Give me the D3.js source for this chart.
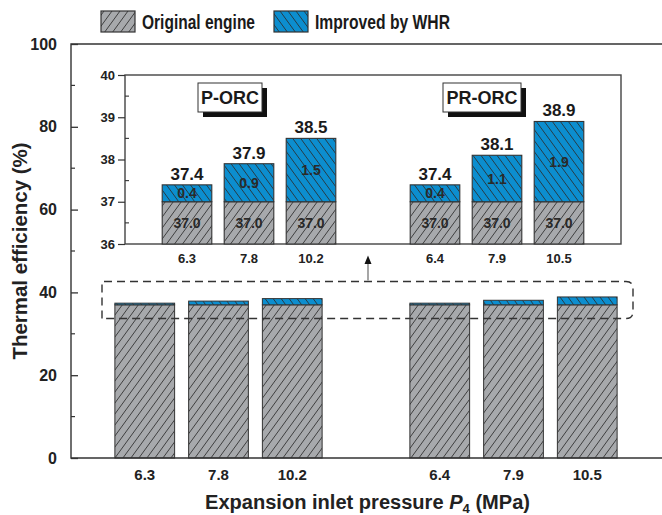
<!DOCTYPE html>
<html>
<head>
<meta charset="utf-8">
<script src="https://cdn.jsdelivr.net/npm/d3@7"></script>
<style>
  html, body { margin: 0; padding: 0; background: #fff; }
  svg { display: block; font-family: "Liberation Sans", Arial, sans-serif; }
</style>
</head>
<body>
<svg id="chart" width="662" height="515"></svg>
<script>
// Thermal efficiency of the original engine and the gain from waste heat recovery
const cycles = ["P-ORC", "PR-ORC"];
const cycleOf = ["P-ORC", "P-ORC", "P-ORC", "PR-ORC", "PR-ORC", "PR-ORC"];
const pressures = ["6.3", "7.8", "10.2", "6.4", "7.9", "10.5"];
const originalEff = [37.0, 37.0, 37.0, 37.0, 37.0, 37.0];
const improvedBy = [0.4, 0.9, 1.5, 0.4, 1.1, 1.9];
const mainTicks = [0, 20, 40, 60, 80, 100];
const insetTicks = [36, 37, 38, 39, 40];
const seriesNames = ["Original engine", "Improved by WHR"];

const GRAY = "#a7a9ac";
const BLUE = "#0c8ecf";
const INK = "#2a2a2a";

const rows = pressures.map((p, i) => ({
  p, cycle: cycleOf[i], base: originalEff[i], gain: improvedBy[i],
  total: originalEff[i] + improvedBy[i],
  slot: cycles.indexOf(cycleOf[i]) * 4 + (i % 3) + 1
}));

const svg = d3.select("#chart");
const defs = svg.append("defs");

// diagonal hatch fills
function hatch(id, fill, forward) {
  const w = 8, h = 11;
  const p = defs.append("pattern").attr("id", id)
    .attr("patternUnits", "userSpaceOnUse").attr("width", w).attr("height", h);
  p.append("rect").attr("width", w).attr("height", h).attr("fill", fill);
  const d = forward
    ? `M0,${h} L${w},0 M-${w},${h} L0,0 M${w},${h} L${2*w},0`
    : `M0,0 L${w},${h} M-${w},0 L0,${h} M${w},0 L${2*w},${h}`;
  p.append("path").attr("d", d).attr("stroke", INK).attr("stroke-width", 0.85).attr("fill", "none");
}
hatch("hGray", GRAY, true);
hatch("hBlue", BLUE, false);

// ---------- main panel ----------
const M = { left: 71, right: 661, top: 44, bottom: 458 };
const x = d3.scaleLinear().domain([0, 8]).range([M.left, M.right]);
const y = d3.scaleLinear().domain([0, 100]).range([M.bottom, M.top]);
const barW = (x(1) - x(0)) * 0.81;

const main = svg.append("g");

main.selectAll(".base").data(rows).join("rect")
  .attr("x", d => x(d.slot) - barW / 2).attr("width", barW)
  .attr("y", d => y(d.base)).attr("height", d => y(0) - y(d.base))
  .attr("fill", "url(#hGray)").attr("stroke", "#333").attr("stroke-width", 1);
main.selectAll(".gain").data(rows).join("rect")
  .attr("x", d => x(d.slot) - barW / 2).attr("width", barW)
  .attr("y", d => y(d.total)).attr("height", d => y(d.base) - y(d.total))
  .attr("fill", "url(#hBlue)").attr("stroke", "#333").attr("stroke-width", 1);

// frame
main.append("path")
  .attr("d", `M${M.right + 10},${M.top} H${M.left} V${M.bottom} H${M.right + 10}`)
  .attr("fill", "none").attr("stroke", "#333").attr("stroke-width", 1.4);

// y axis (ticks inward)
const yAxis = d3.axisLeft(y).tickValues(mainTicks).tickSize(-7).tickPadding(14).tickFormat(d3.format("d"));
const gy = main.append("g").attr("transform", `translate(${M.left},0)`).call(yAxis);
gy.select(".domain").remove();
gy.selectAll(".tick line").attr("stroke", "#333").attr("stroke-width", 1.3);
gy.selectAll(".tick text").attr("font-size", 16).attr("font-weight", "bold").attr("fill", "#222");
gy.selectAll(".minor").data(d3.range(10, 100, 20)).join("line")
  .attr("x1", 0).attr("x2", 4).attr("y1", d => y(d)).attr("y2", d => y(d))
  .attr("stroke", "#333").attr("stroke-width", 1.2);

// x tick labels
main.selectAll(".xl").data(rows).join("text")
  .attr("x", d => x(d.slot)).attr("y", 480)
  .attr("text-anchor", "middle").attr("font-size", 15).attr("font-weight", "bold").attr("fill", "#222")
  .text(d => d.p);

// axis titles
svg.append("text")
  .attr("transform", `translate(27,${(M.top + M.bottom) / 2}) rotate(-90)`)
  .attr("text-anchor", "middle").attr("font-size", 20).attr("font-weight", "bold").attr("fill", "#222")
  .attr("textLength", 217).attr("lengthAdjust", "spacingAndGlyphs")
  .text("Thermal efficiency (%)");
const xt = svg.append("text").attr("x", 205).attr("y", 509)
  .attr("font-size", 20).attr("font-weight", "bold").attr("fill", "#222")
  .attr("textLength", 325).attr("lengthAdjust", "spacingAndGlyphs");
xt.append("tspan").text("Expansion inlet pressure ");
xt.append("tspan").attr("font-style", "italic").text("P");
xt.append("tspan").attr("font-size", 13).attr("dy", 4).text("4");
xt.append("tspan").attr("dy", -4).text(" (MPa)");

// dashed zoom marker
const zr = { l: 102, r: 633, t: 281.5, b: 318.5, rad: 7 };
main.append("path")
  .attr("d", `M${zr.l},${zr.b} V${zr.t} H${zr.r - zr.rad} Q${zr.r},${zr.t} ${zr.r},${zr.t + zr.rad} V${zr.b - zr.rad} Q${zr.r},${zr.b} ${zr.r - zr.rad},${zr.b} H${zr.l}`)
  .attr("fill", "none").attr("stroke", "#333").attr("stroke-width", 1.4).attr("stroke-dasharray", "8,5");

// arrow up to inset
main.append("line").attr("x1", 368).attr("x2", 368).attr("y1", zr.t - 1).attr("y2", 262)
  .attr("stroke", "#777").attr("stroke-width", 1.3);
main.append("path").attr("d", "M368,255.5 L364.5,264 L371.5,264 Z").attr("fill", "#111");

// ---------- inset ----------
const I = { left: 125, right: 621, top: 75, bottom: 244 };
const xi = d3.scaleLinear().domain([0, 8]).range([I.left, I.right]);
const yi = d3.scaleLinear().domain([36, 40]).range([I.bottom, I.top]);
const barWi = (xi(1) - xi(0)) * 0.8;
const inset = svg.append("g");

inset.append("rect").attr("x", I.left).attr("y", I.top)
  .attr("width", I.right - I.left).attr("height", I.bottom - I.top)
  .attr("fill", "#fff").attr("stroke", "#444").attr("stroke-width", 1.4);

inset.selectAll(".ib").data(rows).join("rect")
  .attr("x", d => xi(d.slot) - barWi / 2).attr("width", barWi)
  .attr("y", d => yi(d.base)).attr("height", d => yi(36) - yi(d.base))
  .attr("fill", "url(#hGray)").attr("stroke", "#333").attr("stroke-width", 1.1);
inset.selectAll(".ig").data(rows).join("rect")
  .attr("x", d => xi(d.slot) - barWi / 2).attr("width", barWi)
  .attr("y", d => yi(d.total)).attr("height", d => yi(d.base) - yi(d.total))
  .attr("fill", "url(#hBlue)").attr("stroke", "#333").attr("stroke-width", 1.1);

// value labels
const f1 = d3.format(".1f");
inset.selectAll(".tl").data(rows).join("text")
  .attr("x", d => xi(d.slot)).attr("y", d => yi(d.total) - 5)
  .attr("text-anchor", "middle").attr("font-size", 17).attr("font-weight", "bold").attr("fill", "#1a1a1a")
  .text(d => f1(d.total));
inset.selectAll(".gl").data(rows).join("text")
  .attr("x", d => xi(d.slot)).attr("y", d => (yi(d.total) + yi(d.base)) / 2 + 5)
  .attr("text-anchor", "middle").attr("font-size", 14).attr("font-weight", "bold").attr("fill", "#2a2a2a")
  .text(d => f1(d.gain));
inset.selectAll(".bl").data(rows).join("text")
  .attr("x", d => xi(d.slot)).attr("y", d => (yi(36) + yi(d.base)) / 2 + 5)
  .attr("text-anchor", "middle").attr("font-size", 14).attr("font-weight", "bold").attr("fill", "#2a2a2a")
  .text(d => f1(d.base));

// inset y axis (major outward, minor inward)
const yAxisI = d3.axisLeft(yi).tickValues(insetTicks).tickSize(7).tickPadding(3).tickFormat(d3.format("d"));
const gyi = inset.append("g").attr("transform", `translate(${I.left},0)`).call(yAxisI);
gyi.select(".domain").remove();
gyi.selectAll(".tick line").attr("stroke", "#333").attr("stroke-width", 1.2);
gyi.selectAll(".tick text").attr("font-size", 13).attr("font-weight", "bold").attr("fill", "#222");
gyi.selectAll(".minor").data([36.5, 37.5, 38.5, 39.5]).join("line")
  .attr("x1", 0).attr("x2", 4).attr("y1", d => yi(d)).attr("y2", d => yi(d))
  .attr("stroke", "#333").attr("stroke-width", 1.1);

inset.selectAll(".ixl").data(rows).join("text")
  .attr("x", d => xi(d.slot)).attr("y", 263)
  .attr("text-anchor", "middle").attr("font-size", 13).attr("font-weight", "bold").attr("fill", "#222")
  .text(d => d.p);

// cycle name boxes with drop shadow
const boxes = [{ name: cycles[0], cx: 230, w: 64 }, { name: cycles[1], cx: 482, w: 78 }];
boxes.forEach(b => {
  const bx = b.cx - b.w / 2, by = 83, bh = 29;
  inset.append("rect").attr("x", bx + 5).attr("y", by + 5).attr("width", b.w).attr("height", bh).attr("fill", "#111");
  inset.append("rect").attr("x", bx).attr("y", by).attr("width", b.w).attr("height", bh)
    .attr("fill", "#fff").attr("stroke", "#333").attr("stroke-width", 1);
  inset.append("text").attr("x", b.cx).attr("y", by + 21)
    .attr("text-anchor", "middle").attr("font-size", 18).attr("font-weight", "bold").attr("fill", "#1a1a1a")
    .text(b.name);
});

// ---------- legend ----------
const legend = svg.append("g");
const legItems = [{ x: 101, fill: "url(#hGray)", len: 113 }, { x: 274, fill: "url(#hBlue)", len: 135 }];
legItems.forEach((it, i) => {
  legend.append("rect").attr("x", it.x).attr("y", 11).attr("width", 34).attr("height", 21)
    .attr("fill", it.fill).attr("stroke", "#333").attr("stroke-width", 1.2);
  legend.append("text").attr("x", it.x + 41).attr("y", 29)
    .attr("font-family", "'Liberation Sans Narrow', 'Liberation Sans', Arial, sans-serif")
    .attr("font-size", 21).attr("font-weight", "bold").attr("fill", "#1a1a1a")
    .attr("textLength", it.len).attr("lengthAdjust", "spacingAndGlyphs")
    .text(seriesNames[i]);
});
</script>
</body>
</html>
